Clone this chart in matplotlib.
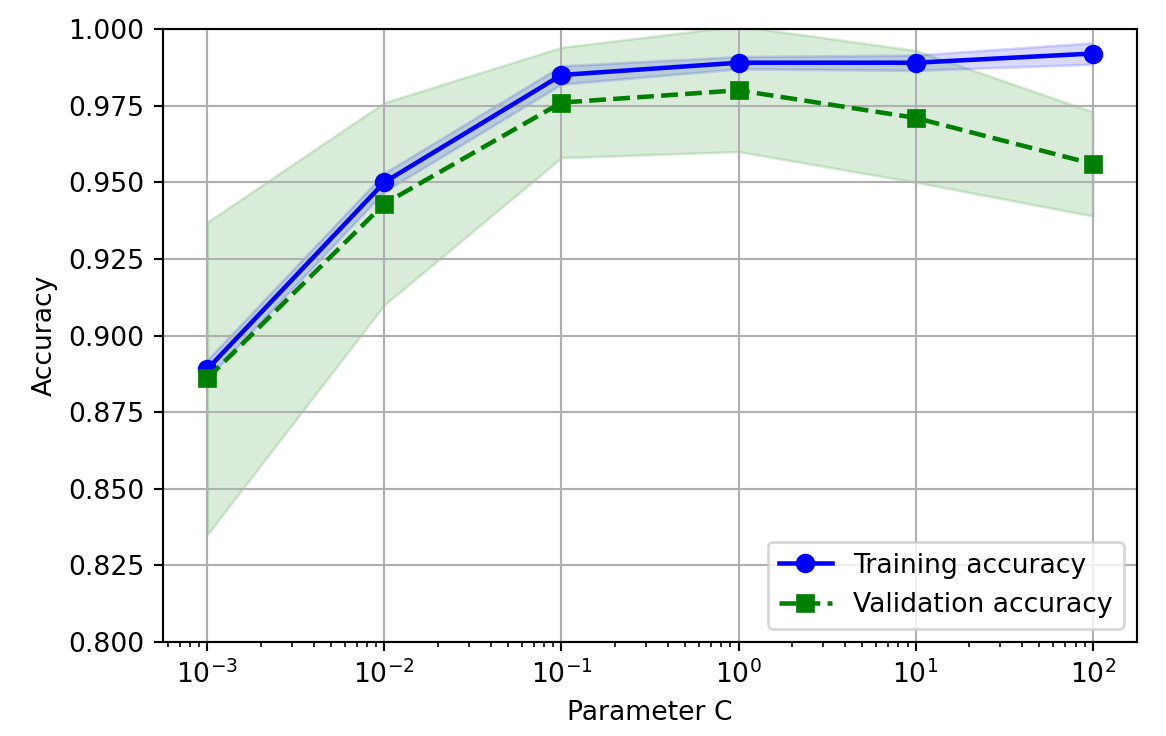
import matplotlib
matplotlib.use("Agg")
import matplotlib.pyplot as plt
import numpy as np

# Parameter grid and CV results
param_range = [0.001, 0.01, 0.1, 1.0, 10.0, 100.0]
train_mean = [0.889, 0.950, 0.985, 0.989, 0.989, 0.992]
train_std = [0.003, 0.003, 0.003, 0.002, 0.0025, 0.0035]
test_mean = [0.886, 0.943, 0.976, 0.980, 0.971, 0.956]
test_lower = [0.835, 0.910, 0.958, 0.960, 0.950, 0.939]
test_upper = [0.937, 0.976, 0.994, 1.001, 0.993, 0.973]

train_mean = np.array(train_mean)
train_std = np.array(train_std)

DPI = 192
fig = plt.figure(figsize=(1166 / DPI, 736 / DPI), dpi=DPI)
ax = fig.add_subplot(111)
fig.subplots_adjust(left=0.1398, right=0.9751, top=0.9606, bottom=0.1277)

ax.plot(param_range, train_mean, color="blue", marker="o", markersize=6.3,
        linewidth=1.7, label="Training accuracy")
ax.fill_between(param_range, train_mean + train_std, train_mean - train_std,
                alpha=0.15, color="blue")

ax.plot(param_range, test_mean, color="green", linestyle="--", marker="s",
        markersize=6.3, linewidth=1.7, label="Validation accuracy")
ax.fill_between(param_range, test_upper, test_lower, alpha=0.15, color="green")

ax.grid()
ax.set_xscale("log")
ax.legend(loc="lower right")
ax.set_xlabel("Parameter C")
ax.set_ylabel("Accuracy")
ax.set_ylim([0.8, 1.0])

fig.savefig("out.png", dpi=DPI)
